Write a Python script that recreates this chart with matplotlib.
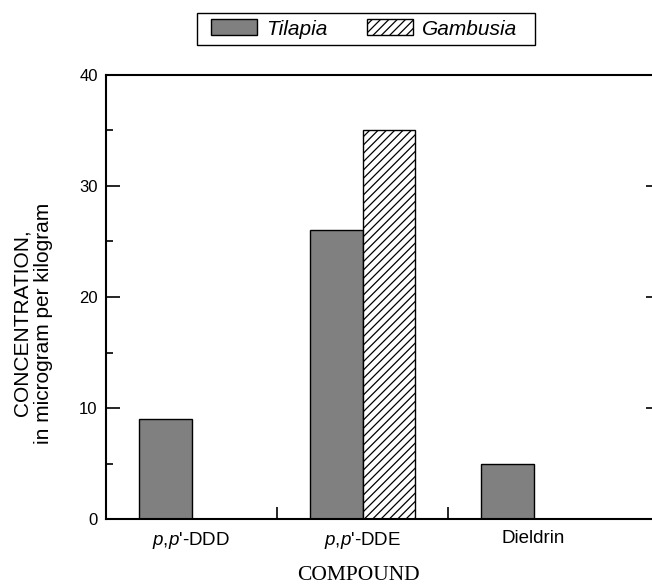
import matplotlib
matplotlib.use("Agg")
import matplotlib.pyplot as plt
from matplotlib.patches import Rectangle
import numpy as np

# datos
compuestos = ["$p$,$p$'-DDD", "$p$,$p$'-DDE", "Dieldrin"]
tilapia = [9, 26, 5]
gambusia = [0, 35, 0]

plt.rcParams['font.family'] = ['Liberation Sans', 'DejaVu Sans']
plt.rcParams['mathtext.fontset'] = 'custom'
plt.rcParams['mathtext.rm'] = 'Liberation Sans'
plt.rcParams['mathtext.it'] = 'Liberation Sans:italic'
plt.rcParams['hatch.linewidth'] = 0.9

fig = plt.figure(figsize=(6.52, 5.86), dpi=100)
# el eje derecho queda justo fuera de la imagen, como en el original
ax = fig.add_axes([106 / 652, 1 - 519 / 586, (660 - 106) / 652, (519 - 75) / 586])

x = np.arange(len(compuestos))
ancho = 0.305
b1 = ax.bar(x - ancho / 2, tilapia, ancho, color='#808080', edgecolor='black',
            linewidth=1, label='Tilapia')
b2 = ax.bar(x + ancho / 2, gambusia, ancho, color='white', edgecolor='black',
            linewidth=1, hatch='////', label='Gambusia')

ax.set_xlim(-0.5, (660 - 191.5) / 171)
ax.set_ylim(0, 40)

ax.set_xticks([0.5, 1.5])
ax.set_xticklabels([])
ax.set_xticks(x, minor=True)
ax.set_xticklabels(compuestos, minor=True, fontsize=13.5)
ax.tick_params(axis='x', which='major', direction='in', length=9, width=1.2)
ax.tick_params(axis='x', which='minor', length=0, pad=8)

ax.set_yticks([0, 10, 20, 30, 40])
ax.set_yticks([5, 15, 25, 35], minor=True)
ax.tick_params(axis='y', which='major', direction='in', length=10, width=1.2,
               labelsize=12, pad=6, right=True)
ax.tick_params(axis='y', which='minor', direction='in', length=5, width=1.2)

for lado in ['left', 'bottom', 'top', 'right']:
    ax.spines[lado].set_linewidth(1.5)

fig.text(33 / 652, 1 - 323 / 586, "CONCENTRATION,\nin microgram per kilogram",
         rotation=90, ha='center', va='center', fontsize=15, linespacing=1.2)
fig.text(358 / 652, 1 - 575 / 586, "COMPOUND", family='Liberation Serif',
         fontsize=15.5, ha='center', va='center')

# leyenda sin marco; el marco se dibuja aparte para controlar el relleno
leg = fig.legend(handles=[b1, b2], loc='center', bbox_to_anchor=(364 / 652, 1 - 29 / 586),
                 ncol=2, frameon=False,
                 prop={'style': 'italic', 'size': 15}, handlelength=2.2,
                 handleheight=0.8, handletextpad=0.45, columnspacing=1.9,
                 borderpad=0.3)
fig.patches.append(Rectangle((197 / 652, 1 - 45 / 586), (535 - 197) / 652, 32 / 586,
                             transform=fig.transFigure, fill=False,
                             edgecolor='black', linewidth=1.0))

plt.savefig("out.png", dpi=100)
